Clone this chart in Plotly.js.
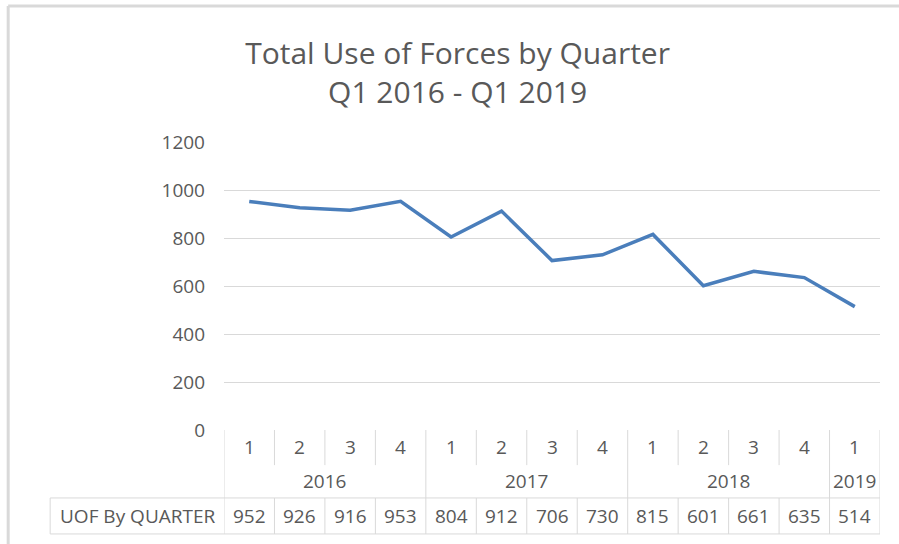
<!DOCTYPE html>
<html>
<head>
<meta charset="utf-8">
<script src="https://cdn.plot.ly/plotly-3.0.1.min.js"></script>
<style>html,body{margin:0;padding:0;background:#fff;}#chart{width:899px;height:544px;}</style>
</head>
<body>
<div id="chart"></div>
<script>
// ---- data ----
const quarters = ["1","2","3","4","1","2","3","4","1","2","3","4","1"];
const years    = ["2016","2016","2016","2016","2017","2017","2017","2017","2018","2018","2018","2018","2019"];
const uofValues = [952,926,916,953,804,912,706,730,815,601,661,635,514];
const seriesName = "UOF By QUARTER";
const yTicks = [0,200,400,600,800,1000,1200];
const titleLines = ["Total Use of Forces by Quarter","Q1 2016 - Q1 2019"];

// ---- layout helpers ----
const txtColor = "#595959";
const gridColor = "#d9d9d9";
const fontFam = "Open Sans, Noto Sans, sans-serif";
const idx = uofValues.map((_, i) => i);
const n = idx.length;

// table rows in paper y (plot area is paper 0..1)
const yTop = 0, yQEnd = -0.122, yYearEnd = -0.236, yDataEnd = -0.361;
const yQText = -0.059, yYearText = -0.177, yDataText = -0.299;
const tableLeftPaper = -0.265;

const shapes = [];
const annotations = [];

// group years
const groups = [];
years.forEach((y, i) => {
  const g = groups[groups.length - 1];
  if (g && g.year === y) g.end = i; else groups.push({year: y, start: i, end: i});
});

// vertical lines
for (let i = 0; i <= n; i++) {
  const xb = i - 0.5;
  const isYearBoundary = i === 0 || i === n || years[i] !== years[i - 1];
  shapes.push({type: "line", xref: "x", yref: "paper", x0: xb, x1: xb,
    y0: isYearBoundary ? yTop : yYearEnd, y1: yDataEnd, line: {color: gridColor, width: 1}});
  if (!isYearBoundary) {
    shapes.push({type: "line", xref: "x", yref: "paper", x0: xb, x1: xb,
      y0: yTop, y1: yQEnd, line: {color: gridColor, width: 1}});
  }
}
// horizontal lines of table
shapes.push({type: "line", xref: "paper", yref: "paper", x0: tableLeftPaper, x1: 1, y0: yYearEnd, y1: yYearEnd, line: {color: gridColor, width: 1}});
shapes.push({type: "line", xref: "paper", yref: "paper", x0: tableLeftPaper, x1: 1, y0: yDataEnd, y1: yDataEnd, line: {color: gridColor, width: 1}});
shapes.push({type: "line", xref: "paper", yref: "paper", x0: tableLeftPaper, x1: tableLeftPaper, y0: yYearEnd, y1: yDataEnd, line: {color: gridColor, width: 1}});
// chart outer border (top and left)
shapes.push({type: "line", xref: "paper", yref: "paper", x0: -0.329, x1: 1.05, y0: 1.472, y1: 1.472, line: {color: gridColor, width: 3}});
shapes.push({type: "line", xref: "paper", yref: "paper", x0: -0.329, x1: -0.329, y0: 1.472, y1: -0.5, line: {color: gridColor, width: 3}});

const cellFont = {family: fontFam, size: 19, color: txtColor};
idx.forEach(i => {
  annotations.push({x: i, y: yQText, xref: "x", yref: "paper", text: quarters[i], showarrow: false, font: cellFont, yanchor: "middle"});
  annotations.push({x: i, y: yDataText, xref: "x", yref: "paper", text: String(uofValues[i]), showarrow: false, font: cellFont, yanchor: "middle"});
});
groups.forEach(g => {
  annotations.push({x: (g.start + g.end) / 2, y: yYearText, xref: "x", yref: "paper", text: g.year, showarrow: false, font: cellFont, yanchor: "middle"});
});
annotations.push({x: tableLeftPaper / 2, y: yDataText, xref: "paper", yref: "paper", text: seriesName, showarrow: false, font: cellFont, yanchor: "middle", xanchor: "center"});

const trace = {
  x: idx, y: uofValues, type: "scatter", mode: "lines", name: seriesName,
  line: {color: "#4a7ebb", width: 3.5}, hoverinfo: "skip"
};

const layout = {
  width: 899, height: 544,
  margin: {l: 224, r: 19, t: 142, b: 114},
  paper_bgcolor: "#fff", plot_bgcolor: "#fff",
  showlegend: false,
  title: {text: titleLines.join("<br>"), x: 0.509, xanchor: "center", y: 0.883, yanchor: "middle",
    font: {family: fontFam, size: 30, color: txtColor}},
  xaxis: {range: [-0.5, n - 0.5], showticklabels: false, showgrid: false, zeroline: false, showline: false, ticks: "", fixedrange: true},
  yaxis: {range: [0, 1200], tickvals: yTicks, ticktext: yTicks.map(String), showgrid: true, gridcolor: gridColor, gridwidth: 1,
    zeroline: false, showline: false, ticks: "", ticklabelstandoff: 18,
    tickfont: {family: fontFam, size: 19, color: txtColor}, fixedrange: true},
  shapes: shapes, annotations: annotations
};

Plotly.newPlot("chart", [trace], layout, {displayModeBar: false, staticPlot: true});
</script>
</body>
</html>
